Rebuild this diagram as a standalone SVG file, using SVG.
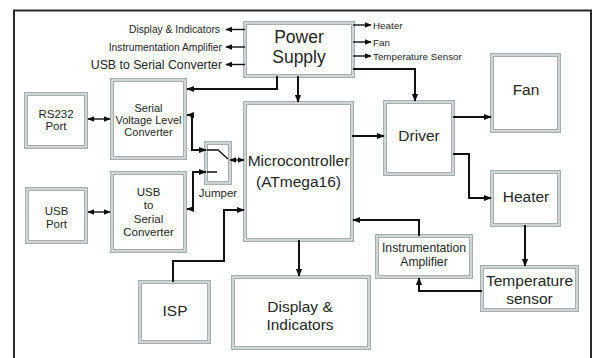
<svg xmlns="http://www.w3.org/2000/svg" width="597" height="358" viewBox="0 0 597 358">
<style>
text{font-family:"Liberation Sans",Arial,sans-serif;fill:#262626;text-anchor:middle}
.b{fill:#fff;stroke:#a6aeae;stroke-width:4}
.bi{fill:none;stroke:#f2f4f4;stroke-width:1.1}
.c{fill:none;stroke:#111;stroke-width:2}
.t{fill:none;stroke:#111;stroke-width:1.4}
.L{font-size:15.5px}
.s{font-size:11px}
.m{font-size:10.3px}
</style>
<defs>
<marker id="a" viewBox="0 0 10 10" refX="9" refY="5" markerWidth="4" markerHeight="4" orient="auto-start-reverse" markerUnits="strokeWidth"><path d="M0,1 L10,5 L0,9 z" fill="#111"/></marker>
<marker id="as" viewBox="0 0 10 10" refX="9" refY="5" markerWidth="5" markerHeight="5" orient="auto-start-reverse" markerUnits="strokeWidth"><path d="M0,1 L10,5 L0,9 z" fill="#111"/></marker>
</defs>
<rect width="597" height="358" fill="#fff"/>
<path d="M14,360 V10.5 H591 V360" fill="none" stroke="#2a2a2a" stroke-width="2"/>

<g id="power-supply"><rect class="b" x="245" y="23" width="108" height="53"/><rect class="bi" x="245" y="23" width="108" height="53"/>
<text class="L" x="299" y="43" style="font-size:17.5px">Power</text><text class="L" x="299" y="63" style="font-size:17.5px">Supply</text></g>
<g id="serial-vlc"><rect class="b" x="112" y="80" width="73" height="78"/><rect class="bi" x="112" y="80" width="73" height="78"/>
<text class="s" x="148.5" y="112">Serial</text><text class="s" x="148.5" y="124">Voltage Level</text><text class="s" x="148.5" y="136">Converter</text></g>
<g id="rs232"><rect class="b" x="26" y="94" width="60" height="53"/><rect class="bi" x="26" y="94" width="60" height="53"/>
<text class="s" x="56" y="118" style="font-size:11.5px">RS232</text><text class="s" x="56" y="130" style="font-size:11.5px">Port</text></g>
<g id="microcontroller"><rect class="b" x="245" y="103" width="107" height="137"/><rect class="bi" x="245" y="103" width="107" height="137"/>
<text class="L" x="298.5" y="166">Microcontroller</text><text class="L" x="298.5" y="187">(ATmega16)</text></g>
<g id="driver"><rect class="b" x="385" y="102" width="68" height="72"/><rect class="bi" x="385" y="102" width="68" height="72"/>
<text class="L" x="419" y="141">Driver</text></g>
<g id="fan"><rect class="b" x="492" y="55" width="67" height="76"/><rect class="bi" x="492" y="55" width="67" height="76"/>
<text class="L" x="526" y="95">Fan</text></g>
<g id="heater"><rect class="b" x="492" y="172" width="67" height="53"/><rect class="bi" x="492" y="172" width="67" height="53"/>
<text class="L" x="526" y="202">Heater</text></g>
<g id="usb-serial-converter"><rect class="b" x="112" y="173" width="73" height="78"/><rect class="bi" x="112" y="173" width="73" height="78"/>
<text class="s" x="148.5" y="196" style="font-size:11.5px">USB</text><text class="s" x="148.5" y="209" style="font-size:11.5px">to</text><text class="s" x="148.5" y="222.5" style="font-size:11.5px">Serial</text><text class="s" x="148.5" y="236" style="font-size:11.5px">Converter</text></g>
<g id="usb-port"><rect class="b" x="27" y="189" width="59" height="53"/><rect class="bi" x="27" y="189" width="59" height="53"/>
<text class="s" x="56.5" y="215" style="font-size:11.5px">USB</text><text class="s" x="56.5" y="228" style="font-size:11.5px">Port</text></g>
<g id="jumper"><rect class="b" x="206" y="143" width="24" height="40"/><rect class="bi" x="206" y="143" width="24" height="40"/>
<path class="t" d="M207,150 H218 L228,159 M207,172 H217"/>
<text class="s" x="218" y="197" style="font-size:11.5px">Jumper</text></g>
<g id="isp"><rect class="b" x="140" y="282" width="69" height="60"/><rect class="bi" x="140" y="282" width="69" height="60"/>
<text class="L" x="175" y="316">ISP</text></g>
<g id="display"><rect class="b" x="233" y="277" width="136" height="71"/><rect class="bi" x="233" y="277" width="136" height="71"/>
<text class="L" x="300" y="312">Display &amp;</text><text class="L" x="300" y="330">Indicators</text></g>
<g id="instrumentation-amplifier"><rect class="b" x="377" y="236" width="94" height="41"/><rect class="bi" x="377" y="236" width="94" height="41"/>
<text x="424" y="252" style="font-size:12.2px">Instrumentation</text><text x="424" y="266" style="font-size:12.2px">Amplifier</text></g>
<g id="temperature-sensor"><rect class="b" x="482" y="267" width="95" height="43"/><rect class="bi" x="482" y="267" width="95" height="43"/>
<text class="L" x="529.5" y="286">Temperature</text><text class="L" x="529.5" y="304">sensor</text></g>

<g id="supply-labels">
<text class="m" x="220" y="33" style="text-anchor:end">Display &amp; Indicators</text>
<text class="m" x="222" y="51" style="text-anchor:end">Instrumentation Amplifier</text>
<text x="222" y="68.5" style="text-anchor:end;font-size:12.3px">USB to Serial Converter</text>
<text class="m" x="373" y="28.5" style="text-anchor:start;font-size:9.8px">Heater</text>
<text class="m" x="373" y="45.5" style="text-anchor:start;font-size:9.8px">Fan</text>
<text class="m" x="373" y="59.5" style="text-anchor:start;font-size:9.8px">Temperature Sensor</text>
</g>

<g id="connectors">
<path class="t" d="M245,29.5 H226" marker-end="url(#as)"/>
<path class="t" d="M245,47 H226" marker-end="url(#as)"/>
<path class="t" d="M245,64.5 H226" marker-end="url(#as)"/>
<path class="t" d="M353,25 H371" marker-end="url(#as)"/>
<path class="t" d="M353,42 H371" marker-end="url(#as)"/>
<path class="t" d="M353,56 H371" marker-end="url(#as)"/>
<path class="c" d="M277,76 V89 H187" marker-end="url(#a)"/>
<path class="c" d="M298,76 V102" marker-end="url(#a)"/>
<path class="c" d="M353,69 H415 V101" marker-end="url(#a)"/>
<path class="t" d="M88,119 H110" marker-start="url(#as)" marker-end="url(#as)"/>
<path class="t" d="M88,212 H110" marker-start="url(#as)" marker-end="url(#as)"/>
<path class="c" d="M187,115 H192 V150 H206" marker-start="url(#a)" marker-end="url(#a)"/>
<path class="c" d="M187,209 H193 V172 H206" marker-start="url(#a)" marker-end="url(#a)"/>
<path class="t" d="M230,160 H244" marker-start="url(#as)" marker-end="url(#as)"/>
<path class="c" d="M173,282 V261 H224 V210 H244" marker-end="url(#a)"/>
<path class="c" d="M299,240 V276" marker-end="url(#a)"/>
<path class="c" d="M352,136 H384" marker-end="url(#a)"/>
<path class="c" d="M453,117 H491" marker-end="url(#a)"/>
<path class="c" d="M453,154 H469 V198 H491" marker-end="url(#a)"/>
<path class="c" d="M525,225 V266" marker-end="url(#a)"/>
<path class="c" d="M482,291 H419 V278" marker-end="url(#a)"/>
<path class="c" d="M419,236 V220 H353" marker-end="url(#a)"/>
</g>
</svg>
